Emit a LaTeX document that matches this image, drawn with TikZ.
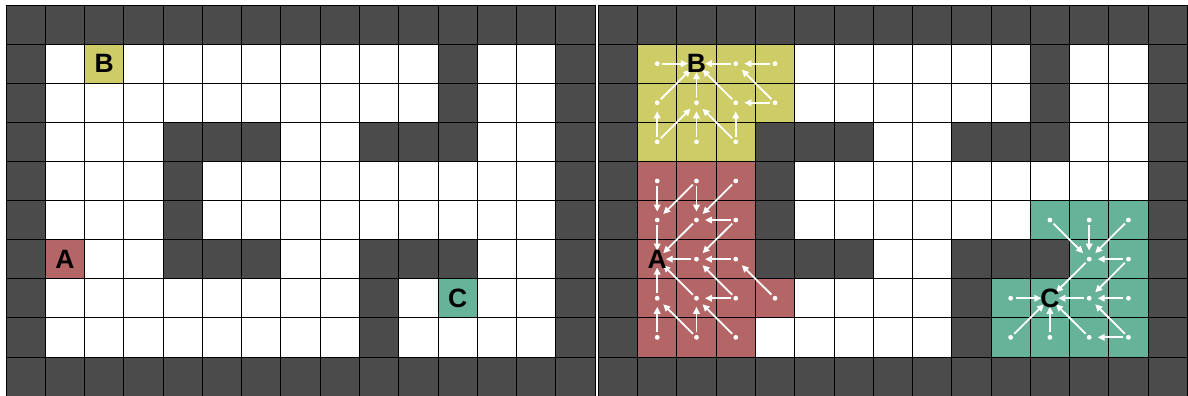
\documentclass[tikz,border=0pt]{standalone}
\usepackage{fontspec}
\setmainfont{Liberation Sans}
\usetikzlibrary{arrows.meta}
\definecolor{wallc}{HTML}{4B4B4B}
\definecolor{yelc}{HTML}{CDCC66}
\definecolor{redc}{HTML}{B46666}
\definecolor{grnc}{HTML}{66B399}
\begin{document}
\begin{tikzpicture}[x=1pt,y=-1pt,
  gridline/.style={draw=black,line width=0.8pt},
  dot/.style={circle,fill=white,inner sep=0pt,minimum size=4.8pt},
  arr/.style={draw=white,line width=1.8pt,shorten <=5pt,shorten >=8.5pt,-{Triangle[length=7pt,width=6.5pt]}},
  letter/.style={font=\fontsize{26.5}{26.5}\selectfont\bfseries,text=black,inner sep=0pt}]
\def\cw{39.27}
\def\ch{39.1}
\useasboundingbox (0,0) rectangle (1188,396);
\fill[white] (0,0) rectangle (1188,396);
% grids
\foreach \ox in {6,598.3}{
  \fill[white] (\ox,5) rectangle ++({15*\cw},{10*\ch});
  \foreach \c in {0,...,14}{
    \fill[wallc] ({\ox+\c*\cw},5) rectangle ++(\cw,\ch);
    \fill[wallc] ({\ox+\c*\cw},{5+9*\ch}) rectangle ++(\cw,\ch);
  }
  \foreach \r in {1,...,8}{
    \fill[wallc] (\ox,{5+\r*\ch}) rectangle ++(\cw,\ch);
    \fill[wallc] ({\ox+14*\cw},{5+\r*\ch}) rectangle ++(\cw,\ch);
  }
  \foreach \r/\c in {1/11,2/11,3/4,3/5,3/6,3/9,3/10,3/11,4/4,5/4,6/4,6/5,6/6,6/9,6/10,6/11,7/9,8/9}{
    \fill[wallc] ({\ox+\c*\cw},{5+\r*\ch}) rectangle ++(\cw,\ch);
  }
}
% left grid start cells
\fill[yelc] ({6+2*\cw},{5+1*\ch}) rectangle ++(\cw,\ch);
\fill[redc] ({6+1*\cw},{5+6*\ch}) rectangle ++(\cw,\ch);
\fill[grnc] ({6+11*\cw},{5+7*\ch}) rectangle ++(\cw,\ch);
% right grid regions
\foreach \r/\c in {1/1,1/2,1/3,1/4,2/1,2/2,2/3,2/4,3/1,3/2,3/3}{
  \fill[yelc] ({598.3+\c*\cw},{5+\r*\ch}) rectangle ++(\cw,\ch);
}
\foreach \r/\c in {4/1,4/2,4/3,5/1,5/2,5/3,6/1,6/2,6/3,7/1,7/2,7/3,7/4,8/1,8/2,8/3}{
  \fill[redc] ({598.3+\c*\cw},{5+\r*\ch}) rectangle ++(\cw,\ch);
}
\foreach \r/\c in {5/11,5/12,5/13,6/12,6/13,7/10,7/11,7/12,7/13,8/10,8/11,8/12,8/13}{
  \fill[grnc] ({598.3+\c*\cw},{5+\r*\ch}) rectangle ++(\cw,\ch);
}
% grid lines
\foreach \ox in {6,598.3}{
  \foreach \i in {0,...,15}{
    \draw[gridline] ({\ox+\i*\cw},5) -- ++(0,{10*\ch});
  }
  \foreach \j in {0,...,10}{
    \draw[gridline] (\ox,{5+\j*\ch}) -- ++({15*\cw},0);
  }
}
% cell centre coordinates of the right grid
\foreach \r in {0,...,9}{
  \foreach \c in {0,...,14}{
    \coordinate (p-\r-\c) at ({598.3+(\c+0.5)*\cw},{5+(\r+0.5)*\ch});
  }
}
% dots
\foreach \r/\c in {1/1,1/3,1/4,2/1,2/2,2/3,2/4,3/1,3/2,3/3,
  4/1,4/2,4/3,5/1,5/2,5/3,6/2,6/3,7/1,7/2,7/3,7/4,8/1,8/2,8/3,
  5/11,5/12,5/13,6/12,6/13,7/10,7/12,7/13,8/10,8/11,8/12,8/13}{
  \node[dot] (d-\r-\c) at (p-\r-\c) {};
}
% arrows
\foreach \a/\b in {1-1/1-2,1-3/1-2,1-4/1-3,2-1/1-2,2-2/1-2,2-3/1-2,2-4/1-3,2-4/2-3,
  3-1/2-1,3-1/2-2,3-2/2-2,3-3/2-2,3-3/2-3,
  4-1/5-1,4-2/5-1,4-2/5-2,4-3/5-2,5-1/6-1,5-2/6-1,5-3/5-2,5-3/6-2,6-2/6-1,6-3/6-2,
  7-4/6-3,7-1/6-1,7-2/6-1,7-3/7-2,7-3/6-2,8-1/7-1,8-2/7-1,8-2/7-2,8-3/7-2,
  5-11/6-12,5-12/6-12,5-13/6-12,6-12/7-11,6-13/6-12,6-13/7-12,7-10/7-11,7-12/7-11,
  7-13/7-12,8-10/7-11,8-11/7-11,8-12/7-11,8-13/8-12,8-13/7-12}{
  \draw[arr] (p-\a) -- (p-\b);
}
% letters
\node[letter] (lB) at ({6+2.5*\cw},{5+1.5*\ch}) {B};
\node[letter] (lA) at ({6+1.5*\cw},{5+6.5*\ch}) {A};
\node[letter] (lC) at ({6+11.5*\cw},{5+7.5*\ch}) {C};
\node[letter] (rB) at (p-1-2) {B};
\node[letter] (rA) at (p-6-1) {A};
\node[letter] (rC) at (p-7-11) {C};
\end{tikzpicture}
\end{document}
